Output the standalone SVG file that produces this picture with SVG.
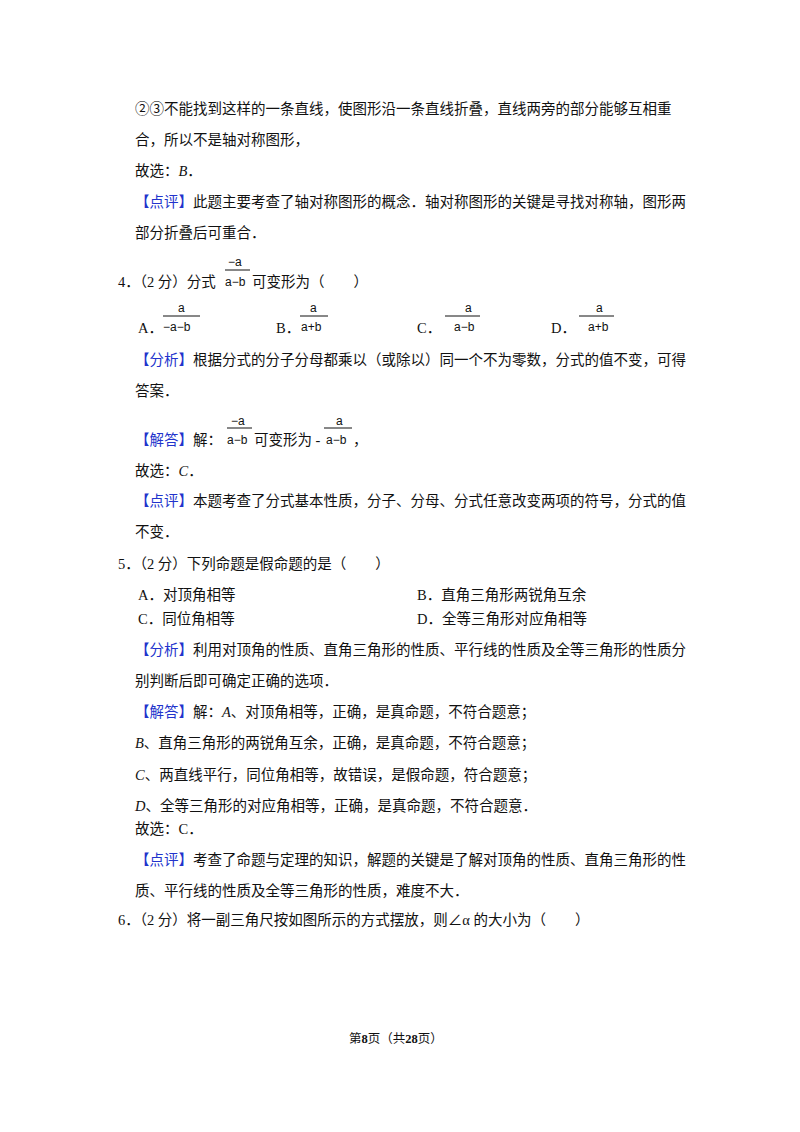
<svg xmlns="http://www.w3.org/2000/svg" width="800" height="1132" viewBox="0 0 800 1132">
<style>
text{font-family:"Liberation Serif","Noto Sans CJK SC",serif;font-size:14.5px;fill:#111}
.b{fill:#2233cc}
.f{font-family:"Liberation Sans","Noto Sans CJK SC",sans-serif;font-size:12px}
.i{font-style:italic}
line{stroke:#111;stroke-width:1}
</style>
<rect width="800" height="1132" fill="#fff"/>
<text x="135" y="114">②③不能找到这样的一条直线，使图形沿一条直线折叠，直线两旁的部分能够互相重</text>
<text x="135" y="145">合，所以不是轴对称图形，</text>
<text x="135" y="176">故选：<tspan class="i">B</tspan>．</text>
<text x="135" y="207"><tspan class="b">【点评】</tspan>此题主要考查了轴对称图形的概念．轴对称图形的关键是寻找对称轴，图形两</text>
<text x="135" y="238">部分折叠后可重合．</text>
<text x="118" y="287">4．（2 分）分式</text>
<text class="f" x="228" y="266">−a</text><line x1="225" y1="270" x2="250" y2="270"/>
<text class="f" x="225" y="286">a−b</text>
<text x="252" y="287">可变形为（　　）</text>
<text x="138" y="333">A．</text>
<text class="f" x="178" y="312">a</text><line x1="163" y1="316" x2="200" y2="316"/><text class="f" x="163" y="331">−a−b</text>
<text x="276" y="333">B．</text>
<text class="f" x="310" y="312">a</text><line x1="300" y1="316" x2="328" y2="316"/><text class="f" x="301" y="331">a+b</text>
<text x="417" y="333">C．</text>
<text class="f" x="465" y="312">a</text><line x1="445" y1="316" x2="480" y2="316"/><text class="f" x="454" y="331">a−b</text>
<text x="551" y="333">D．</text>
<text class="f" x="596" y="312">a</text><line x1="579" y1="316" x2="614" y2="316"/><text class="f" x="588" y="331">a+b</text>
<text x="135" y="365"><tspan class="b">【分析】</tspan>根据分式的分子分母都乘以（或除以）同一个不为零数，分式的值不变，可得</text>
<text x="135" y="396">答案．</text>
<text x="135" y="445"><tspan class="b">【解答】</tspan>解：</text>
<text class="f" x="231" y="425">−a</text><line x1="227" y1="428" x2="252" y2="428"/>
<text class="f" x="227" y="444">a−b</text>
<text x="254" y="445">可变形为 -</text>
<text class="f" x="336" y="425">a</text><line x1="324" y1="428" x2="352" y2="428"/>
<text class="f" x="326" y="444">a−b</text>
<text x="353" y="445">，</text>
<text x="135" y="476">故选：<tspan class="i">C</tspan>．</text>
<text x="135" y="506"><tspan class="b">【点评】</tspan>本题考查了分式基本性质，分子、分母、分式任意改变两项的符号，分式的值</text>
<text x="135" y="537">不变．</text>
<text x="118" y="569">5．（2 分）下列命题是假命题的是（　　）</text>
<text x="138" y="600">A．对顶角相等</text>
<text x="417" y="600">B．直角三角形两锐角互余</text>
<text x="138" y="624">C．同位角相等</text>
<text x="417" y="624">D．全等三角形对应角相等</text>
<text x="135" y="655"><tspan class="b">【分析】</tspan>利用对顶角的性质、直角三角形的性质、平行线的性质及全等三角形的性质分</text>
<text x="135" y="686">别判断后即可确定正确的选项．</text>
<text x="135" y="717"><tspan class="b">【解答】</tspan>解：<tspan class="i">A</tspan>、对顶角相等，正确，是真命题，不符合题意；</text>
<text x="135" y="748"><tspan class="i">B</tspan>、直角三角形的两锐角互余，正确，是真命题，不符合题意；</text>
<text x="135" y="780"><tspan class="i">C</tspan>、两直线平行，同位角相等，故错误，是假命题，符合题意；</text>
<text x="135" y="811"><tspan class="i">D</tspan>、全等三角形的对应角相等，正确，是真命题，不符合题意．</text>
<text x="135" y="834">故选：C．</text>
<text x="135" y="865"><tspan class="b">【点评】</tspan>考查了命题与定理的知识，解题的关键是了解对顶角的性质、直角三角形的性</text>
<text x="135" y="896">质、平行线的性质及全等三角形的性质，难度不大．</text>
<text x="118" y="925">6．（2 分）将一副三角尺按如图所示的方式摆放，则∠α 的大小为（　　）</text>
<text x="349" y="1043" style="font-size:12.5px">第<tspan font-weight="bold">8</tspan>页（共<tspan font-weight="bold">28</tspan>页）</text>
</svg>
